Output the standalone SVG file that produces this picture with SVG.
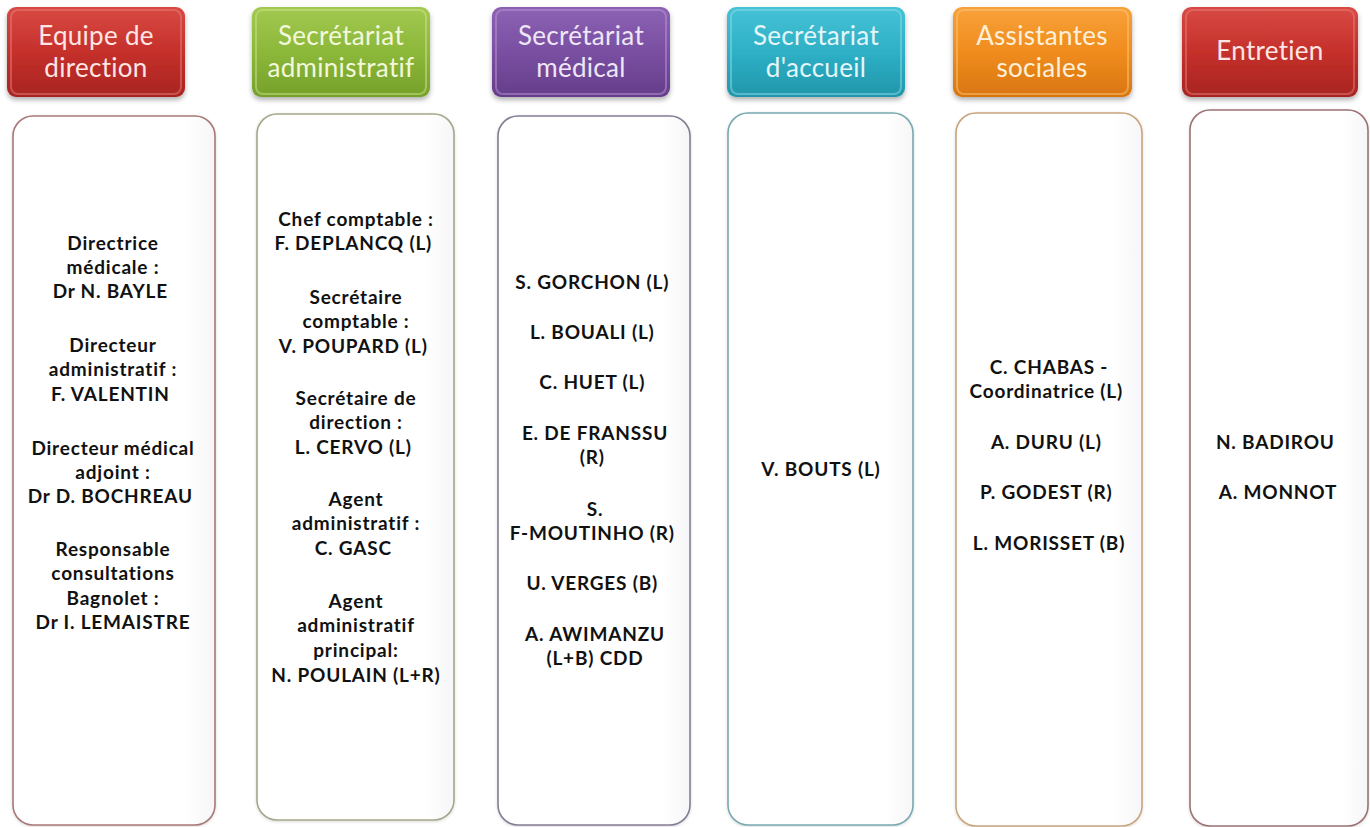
<svg xmlns="http://www.w3.org/2000/svg" width="1370" height="827" viewBox="0 0 1370 827">
<style>
.ht{font-family:Lato,"Open Sans","Liberation Sans",sans-serif;font-size:26px;text-anchor:middle;letter-spacing:0.3px}
.bt{font-family:Lato,"Open Sans","Liberation Sans",sans-serif;font-size:19px;font-weight:700;text-anchor:middle;fill:#111;letter-spacing:0.8px}
.box{stroke-width:1.6}
</style>
<defs>
<filter id="sh" x="-10%" y="-10%" width="120%" height="130%">
<feDropShadow dx="0" dy="3" stdDeviation="2.5" flood-color="#000" flood-opacity="0.3"/>
</filter>
<filter id="sh2" x="-5%" y="-5%" width="110%" height="110%">
<feDropShadow dx="0" dy="1" stdDeviation="1.5" flood-color="#000" flood-opacity="0.15"/>
</filter>
<linearGradient id="gRed" x1="0" y1="0" x2="0" y2="1"><stop offset="0" stop-color="#d84a44"/><stop offset="0.5" stop-color="#c5302b"/><stop offset="1" stop-color="#a82420"/></linearGradient>
<linearGradient id="gGreen" x1="0" y1="0" x2="0" y2="1"><stop offset="0" stop-color="#a2c950"/><stop offset="0.5" stop-color="#8cb83a"/><stop offset="1" stop-color="#76a02a"/></linearGradient>
<linearGradient id="gPurple" x1="0" y1="0" x2="0" y2="1"><stop offset="0" stop-color="#8c62b4"/><stop offset="0.5" stop-color="#7a4fa2"/><stop offset="1" stop-color="#653d8a"/></linearGradient>
<linearGradient id="gTeal" x1="0" y1="0" x2="0" y2="1"><stop offset="0" stop-color="#46c2d6"/><stop offset="0.5" stop-color="#2eb0c6"/><stop offset="1" stop-color="#2196aa"/></linearGradient>
<linearGradient id="gOrange" x1="0" y1="0" x2="0" y2="1"><stop offset="0" stop-color="#f8a23a"/><stop offset="0.5" stop-color="#f08c1e"/><stop offset="1" stop-color="#d87610"/></linearGradient>
<linearGradient id="gWhite" x1="0" y1="0" x2="1" y2="0"><stop offset="0" stop-color="#ffffff"/><stop offset="0.85" stop-color="#ffffff"/><stop offset="1" stop-color="#f6f6f8"/></linearGradient>
</defs>

<g id="header-direction">
<rect x="7" y="7" width="178" height="90" rx="9" fill="url(#gRed)" filter="url(#sh)"/>
<rect x="11" y="10" width="170" height="84" rx="7" fill="none" stroke="#e8807a" stroke-opacity="0.5" stroke-width="2"/>
<text class="ht" fill="#fde6e3"><tspan x="96" y="45">Equipe de</tspan><tspan x="96" y="77">direction</tspan></text>
</g>
<g id="header-admin">
<rect x="252" y="7" width="178" height="90" rx="9" fill="url(#gGreen)" filter="url(#sh)"/>
<rect x="256" y="10" width="170" height="84" rx="7" fill="none" stroke="#cde38e" stroke-opacity="0.5" stroke-width="2"/>
<text class="ht" fill="#f2f8dc"><tspan x="341" y="45">Secrétariat</tspan><tspan x="341" y="77">administratif</tspan></text>
</g>
<g id="header-medical">
<rect x="492" y="7" width="178" height="90" rx="9" fill="url(#gPurple)" filter="url(#sh)"/>
<rect x="496" y="10" width="170" height="84" rx="7" fill="none" stroke="#b89ad6" stroke-opacity="0.5" stroke-width="2"/>
<text class="ht" fill="#eee6f6"><tspan x="581" y="45">Secrétariat</tspan><tspan x="581" y="77">médical</tspan></text>
</g>
<g id="header-accueil">
<rect x="727" y="7" width="178" height="90" rx="9" fill="url(#gTeal)" filter="url(#sh)"/>
<rect x="731" y="10" width="170" height="84" rx="7" fill="none" stroke="#8edbe8" stroke-opacity="0.5" stroke-width="2"/>
<text class="ht" fill="#e4f6f9"><tspan x="816" y="45">Secrétariat</tspan><tspan x="816" y="77">d'accueil</tspan></text>
</g>
<g id="header-sociales">
<rect x="953" y="7" width="179" height="90" rx="9" fill="url(#gOrange)" filter="url(#sh)"/>
<rect x="957" y="10" width="171" height="84" rx="7" fill="none" stroke="#fcc87a" stroke-opacity="0.5" stroke-width="2"/>
<text class="ht" fill="#fdf0da"><tspan x="1042" y="45">Assistantes</tspan><tspan x="1042" y="77">sociales</tspan></text>
</g>
<g id="header-entretien">
<rect x="1182" y="7" width="176" height="90" rx="9" fill="url(#gRed)" filter="url(#sh)"/>
<rect x="1186" y="10" width="168" height="84" rx="7" fill="none" stroke="#e8807a" stroke-opacity="0.5" stroke-width="2"/>
<text class="ht" fill="#fde6e3"><tspan x="1270" y="60">Entretien</tspan></text>
</g>

<g id="box-direction">
<rect class="box" x="13" y="116" width="202" height="709" rx="20" fill="url(#gWhite)" stroke="#a87878" filter="url(#sh2)"/>
<text class="bt">
<tspan x="113" y="250">Directrice</tspan><tspan x="113" y="274">médicale :</tspan><tspan x="113" y="298">Dr N. BAYLE</tspan>
<tspan x="113" y="352">Directeur</tspan><tspan x="113" y="376">administratif :</tspan><tspan x="113" y="401">F. VALENTIN</tspan>
<tspan x="113" y="455">Directeur médical</tspan><tspan x="113" y="479">adjoint :</tspan><tspan x="113" y="503">Dr D. BOCHREAU</tspan>
<tspan x="113" y="556">Responsable</tspan><tspan x="113" y="580">consultations</tspan><tspan x="113" y="605">Bagnolet :</tspan><tspan x="113" y="629">Dr I. LEMAISTRE</tspan>
</text>
</g>
<g id="box-admin">
<rect class="box" x="257" y="114" width="197" height="706" rx="20" fill="url(#gWhite)" stroke="#a6a68a" filter="url(#sh2)"/>
<text class="bt">
<tspan x="356" y="226">Chef comptable :</tspan><tspan x="356" y="250">F. DEPLANCQ (L)</tspan>
<tspan x="356" y="304">Secrétaire</tspan><tspan x="356" y="328">comptable :</tspan><tspan x="356" y="353">V. POUPARD (L)</tspan>
<tspan x="356" y="405">Secrétaire de</tspan><tspan x="356" y="429">direction :</tspan><tspan x="356" y="454">L. CERVO (L)</tspan>
<tspan x="356" y="506">Agent</tspan><tspan x="356" y="530">administratif :</tspan><tspan x="356" y="555">C. GASC</tspan>
<tspan x="356" y="608">Agent</tspan><tspan x="356" y="632">administratif</tspan><tspan x="356" y="657">principal:</tspan><tspan x="356" y="682">N. POULAIN (L+R)</tspan>
</text>
</g>
<g id="box-medical">
<rect class="box" x="498" y="116" width="192" height="709" rx="20" fill="url(#gWhite)" stroke="#857c94" filter="url(#sh2)"/>
<text class="bt">
<tspan x="595" y="289">S. GORCHON (L)</tspan>
<tspan x="595" y="339">L. BOUALI (L)</tspan>
<tspan x="595" y="389">C. HUET (L)</tspan>
<tspan x="595" y="440">E. DE FRANSSU</tspan><tspan x="595" y="464">(R)</tspan>
<tspan x="595" y="516">S.</tspan><tspan x="595" y="540">F-MOUTINHO (R)</tspan>
<tspan x="595" y="590">U. VERGES (B)</tspan>
<tspan x="595" y="641">A. AWIMANZU</tspan><tspan x="595" y="665">(L+B) CDD</tspan>
</text>
</g>
<g id="box-accueil">
<rect class="box" x="728" y="113" width="185" height="712" rx="20" fill="url(#gWhite)" stroke="#78a8b0" filter="url(#sh2)"/>
<text class="bt"><tspan x="821" y="476">V. BOUTS (L)</tspan></text>
</g>
<g id="box-sociales">
<rect class="box" x="956" y="113" width="186" height="713" rx="20" fill="url(#gWhite)" stroke="#c8a47c" filter="url(#sh2)"/>
<text class="bt">
<tspan x="1049" y="374">C. CHABAS -</tspan><tspan x="1049" y="398">Coordinatrice (L)</tspan>
<tspan x="1049" y="449">A. DURU (L)</tspan>
<tspan x="1049" y="499">P. GODEST (R)</tspan>
<tspan x="1049" y="550">L. MORISSET (B)</tspan>
</text>
</g>
<g id="box-entretien">
<rect class="box" x="1190" y="110" width="178" height="716" rx="20" fill="url(#gWhite)" stroke="#9c7272" filter="url(#sh2)"/>
<text class="bt">
<tspan x="1278" y="449">N. BADIROU</tspan>
<tspan x="1278" y="499">A. MONNOT</tspan>
</text>
</g>
<g id="connectors"/>
</svg>
